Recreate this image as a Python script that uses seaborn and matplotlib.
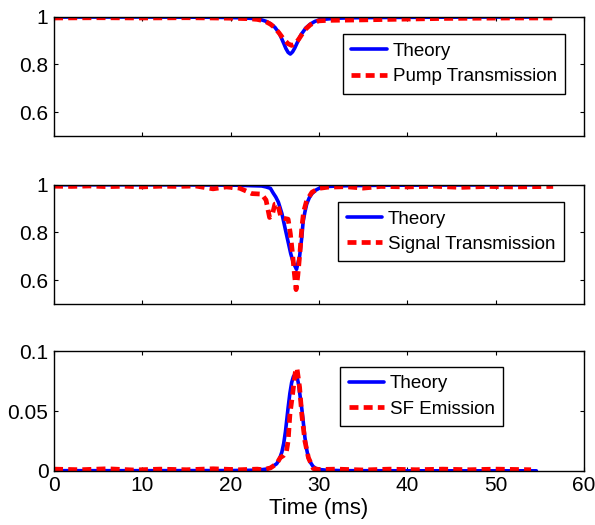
# ==================== Pump / signal / SF emission vs time ====================

# -------------------- 0. setup --------------------
import matplotlib
matplotlib.use('Agg')
import matplotlib.pyplot as plt
import seaborn as sns

sns.set_style("ticks", rc={'text.color': 'black', 'axes.labelcolor': 'black',
                           'xtick.color': 'black', 'ytick.color': 'black'})
plt.rcParams['font.family'] = ['Liberation Sans', 'DejaVu Sans']
plt.rcParams['axes.unicode_minus'] = False

# -------------------- 1. data --------------------
# top panel: pump transmission
pump_theory_t = [0, 10, 18, 21, 22.5, 23.5, 24, 24.5, 25, 25.5, 26, 26.25, 26.5, 26.75,
                 27, 27.25, 27.5, 27.75, 28, 28.5, 29, 29.5, 30, 31, 32, 34, 37, 42, 48, 54.6]
pump_theory_v = [0.998, 0.998, 0.997, 0.995, 0.992, 0.986, 0.980, 0.970, 0.955, 0.930, 0.888,
                 0.866, 0.850, 0.843, 0.852, 0.868, 0.888, 0.908, 0.926, 0.952, 0.968, 0.979,
                 0.986, 0.990, 0.993, 0.995, 0.996, 0.997, 0.998, 0.998]
pump_meas_t = [0, 5, 10, 15, 18, 20, 22, 23, 23.5, 24, 24.5, 25, 25.5, 26, 26.5, 26.9, 27.3,
               27.7, 28, 28.5, 29, 29.5, 30, 31, 33, 35, 38, 41, 44, 48, 52, 56.5]
pump_meas_v = [0.994, 0.995, 0.994, 0.995, 0.994, 0.993, 0.991, 0.988, 0.984, 0.978, 0.968,
               0.953, 0.930, 0.905, 0.886, 0.879, 0.886, 0.905, 0.922, 0.948, 0.965, 0.976,
               0.982, 0.984, 0.985, 0.986, 0.988, 0.990, 0.992, 0.993, 0.994, 0.994]

# middle panel: signal transmission
sig_theory_t = [0, 10, 18, 21, 22.5, 23.5, 24, 24.5, 24.8, 25.1, 25.4, 25.8, 26.2, 26.5, 26.8,
                27.1, 27.45, 27.8, 28.05, 28.2, 28.4, 28.6, 28.9, 29.2, 29.6, 30.1, 31, 33, 37,
                45, 54.6]
sig_theory_v = [0.999, 0.999, 0.998, 0.997, 0.995, 0.994, 0.990, 0.984, 0.965, 0.948, 0.926,
                0.878, 0.810, 0.760, 0.710, 0.672, 0.645, 0.700, 0.780, 0.845, 0.885, 0.918,
                0.945, 0.962, 0.976, 0.986, 0.992, 0.995, 0.997, 0.998, 0.999]
sig_meas_t = [0, 2, 4, 6, 8, 10, 12, 14, 16, 18, 19.5, 21, 22.4, 23.5, 24.0, 24.4, 24.7, 25.0,
              25.3, 25.7, 26.1, 26.5, 26.75, 27.0, 27.2, 27.4, 27.6, 27.85, 28.05, 28.25, 28.6,
              29.2, 30, 31, 33, 35, 37, 40, 43, 46, 49, 52, 56.5]
sig_meas_v = [0.993, 0.992, 0.994, 0.991, 0.993, 0.990, 0.993, 0.992, 0.994, 0.982, 0.990,
              0.985, 0.962, 0.960, 0.935, 0.862, 0.872, 0.918, 0.920, 0.862, 0.858, 0.855,
              0.795, 0.710, 0.630, 0.560, 0.620, 0.720, 0.820, 0.885, 0.933, 0.968, 0.984,
              0.989, 0.991, 0.985, 0.992, 0.990, 0.993, 0.988, 0.992, 0.990, 0.992]

# bottom panel: superfluorescent emission
sf_theory_t = [0, 10, 20, 23, 24, 24.6, 25.2, 25.5, 25.8, 26.0, 26.2, 26.5, 26.7, 26.9, 27.1,
               27.3, 27.5, 27.7, 27.9, 28.05, 28.2, 28.4, 28.6, 28.8, 29.0, 29.3, 29.6, 30, 31,
               33, 40, 54.6]
sf_theory_v = [0.0002, 0.0002, 0.0003, 0.0006, 0.0015, 0.003, 0.006, 0.0095, 0.016, 0.023,
               0.033, 0.053, 0.065, 0.074, 0.079, 0.081, 0.079, 0.072, 0.060, 0.052, 0.042,
               0.028, 0.018, 0.011, 0.0075, 0.004, 0.0022, 0.0012, 0.0005, 0.0002, 0.0001,
               0.0001]
sf_meas_t = [0, 3, 6, 9, 12, 15, 18, 21, 23, 23.7, 24.5, 25.2, 25.6, 26.0, 26.3, 26.5, 26.7,
             27.0, 27.3, 27.5, 27.8, 28.05, 28.4, 28.8, 29.35, 30, 32, 35, 38, 41, 44, 47, 50, 54]
sf_meas_v = [0.0015, 0.001, 0.0018, 0.0008, 0.0015, 0.001, 0.0018, 0.001, 0.0015, 0.001,
             0.0025, 0.006, 0.011, 0.013, 0.016, 0.025, 0.047, 0.064, 0.082, 0.086, 0.070,
             0.047, 0.025, 0.011, 0.002, 0.0012, 0.0015, 0.0008, 0.0015, 0.001, 0.0015, 0.001,
             0.0015, 0.001]

panels = [
    (pump_theory_t, pump_theory_v, pump_meas_t, pump_meas_v, 'Pump Transmission'),
    (sig_theory_t, sig_theory_v, sig_meas_t, sig_meas_v, 'Signal Transmission'),
    (sf_theory_t, sf_theory_v, sf_meas_t, sf_meas_v, 'SF Emission'),
]
ylims = [(0.5, 1.0), (0.5, 1.0), (0.0, 0.1)]
yticks = [[0.6, 0.8, 1.0], [0.6, 0.8, 1.0], [0.0, 0.05, 0.1]]
yticklabels = [['0.6', '0.8', '1'], ['0.6', '0.8', '1'], ['0', '0.05', '0.1']]
legend_anchor = [(0.545, 0.852), (0.536, 0.853), (0.540, 0.871)]

# -------------------- 2. figure --------------------
fig = plt.figure(figsize=(5.95, 5.25), dpi=100)
axes_bottom = [0.741, 0.421, 0.103]

for i, (tt, tv, mt, mv, name) in enumerate(panels):
    ax = fig.add_axes([0.0908, axes_bottom[i], 0.8908, 0.2275])
    sns.lineplot(x=tt, y=tv, ax=ax, color='#0000ff', linewidth=2.6, label='Theory')
    sns.lineplot(x=mt, y=mv, ax=ax, color='#ff0000', linewidth=3.4, label=name)
    ax.lines[1].set_dashes([1.9, 1.1])

    ax.set_xlim(0, 60)
    ax.set_ylim(*ylims[i])
    ax.set_xticks(range(0, 61, 10))
    ax.set_yticks(yticks[i])
    ax.set_yticklabels(yticklabels[i])
    ax.tick_params(direction='in', top=True, right=True, length=3, width=0.8,
                   labelsize=15, pad=4)
    for sp in ax.spines.values():
        sp.set_linewidth(1.0)
        sp.set_color('black')
    if i < 2:
        ax.tick_params(labelbottom=False)
    else:
        ax.set_xlabel('Time (ms)', fontsize=16, labelpad=2)

    leg = ax.legend(loc='upper left', bbox_to_anchor=legend_anchor[i], borderaxespad=0,
                    fontsize=13.5, fancybox=False, framealpha=1, edgecolor='black',
                    handlelength=1.9, handletextpad=0.3, labelspacing=0.44, borderpad=0.45)
    leg.get_frame().set_linewidth(1.0)

plt.savefig('out.png', dpi=100)
